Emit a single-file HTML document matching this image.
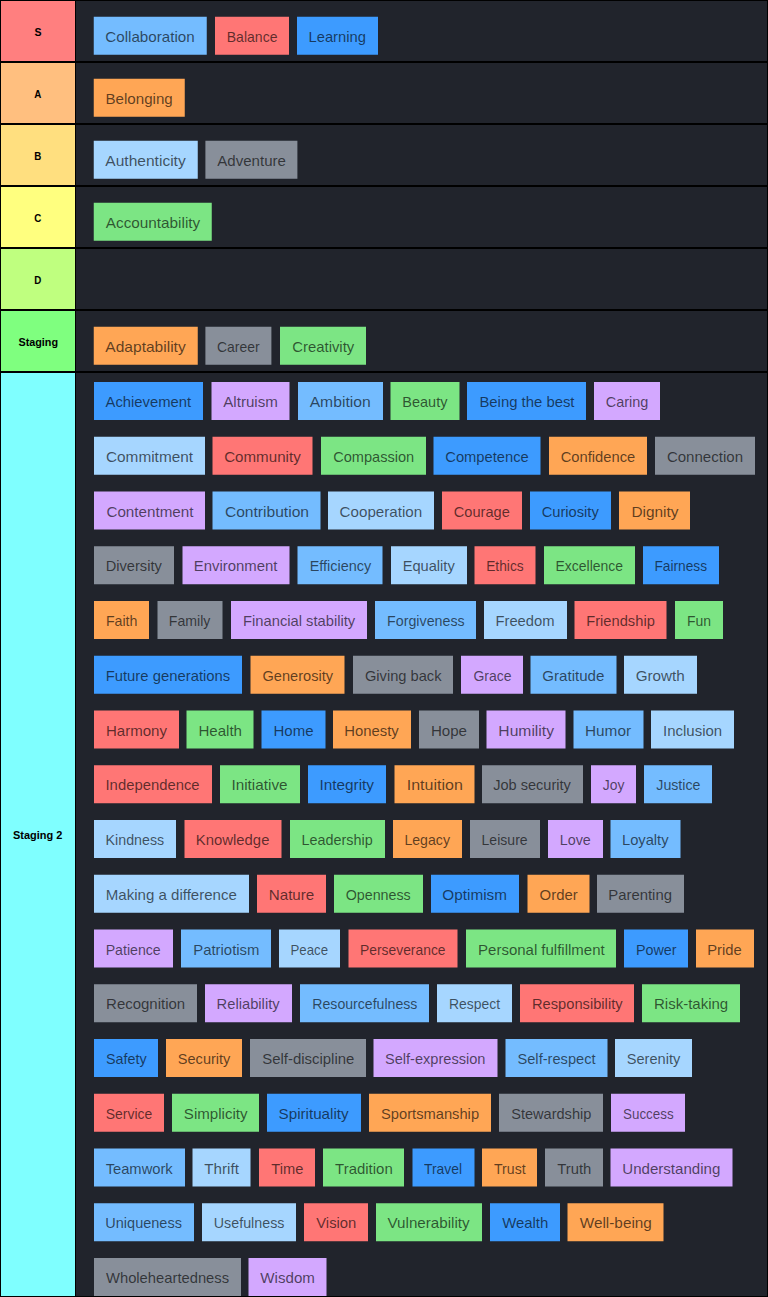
<!DOCTYPE html>
<html><head><meta charset="utf-8"><title>Values tier list</title>
<style>
html,body{margin:0;padding:0;background:#000;}
body{width:768px;height:1297px;position:relative;overflow:hidden;font-family:"Liberation Sans",sans-serif;}
.row{position:absolute;left:1px;width:766px;background:#21242c;}
.lab{position:absolute;left:0;top:0;width:74px;height:100%;display:flex;align-items:center;justify-content:center;font-weight:bold;font-size:10.5px;color:#000;white-space:nowrap;}
.sep{position:absolute;left:74px;top:0;width:1px;height:100%;background:#000;}
.c{position:absolute;height:38px;display:flex;align-items:center;justify-content:center;font-size:15px;color:rgba(0,0,0,.64);white-space:nowrap;}
.c span,.lab span{display:inline-block;position:relative;top:0.6px;}
.lab span{top:1.25px;}
.lb{background:#74bcff;}
.red{background:#ff7675;}
.blue{background:#3d9bff;}
.or{background:#ffa655;}
.pale{background:#a6d6ff;}
.gray{background:#888f9a;}
.gr{background:#7ce584;}
.pu{background:#d3a8ff;}
</style></head><body>
<div class="row" style="top:1px;height:60px">
<div class="lab" style="background:#ff7f7f"><span>S</span></div><div class="sep"></div>
<div class="c lb" style="left:92px;top:15px;width:113px;transform:translate(0.75px,0.75px);"><span style="transform:scaleX(1.0109)">Collaboration</span></div>
<div class="c red" style="left:214px;top:15px;width:74px;transform:translate(0px,0.75px);"><span style="transform:scaleX(0.9351)">Balance</span></div>
<div class="c blue" style="left:296px;top:15px;width:81px;transform:translate(0px,0.75px);"><span style="transform:scaleX(0.9830)">Learning</span></div>
</div>
<div class="row" style="top:63px;height:60px">
<div class="lab" style="background:#ffbf7f"><span style="transform:scaleX(.93)">A</span></div><div class="sep"></div>
<div class="c or" style="left:92px;top:15px;width:91px;transform:translate(0.75px,0.75px);"><span style="transform:scaleX(1.0092)">Belonging</span></div>
</div>
<div class="row" style="top:125px;height:60px">
<div class="lab" style="background:#ffdf7f"><span style="transform:scaleX(.93)">B</span></div><div class="sep"></div>
<div class="c pale" style="left:92px;top:15px;width:104px;transform:translate(0.75px,0.75px);"><span style="transform:scaleX(1.0361)">Authenticity</span></div>
<div class="c gray" style="left:204px;top:15px;width:92px;transform:translate(0.4px,0.75px);"><span style="transform:scaleX(1.0045)">Adventure</span></div>
</div>
<div class="row" style="top:187px;height:60px">
<div class="lab" style="background:#ffff7f"><span style="transform:scaleX(.93)">C</span></div><div class="sep"></div>
<div class="c gr" style="left:92px;top:15px;width:118px;transform:translate(0.75px,0.75px);"><span style="transform:scaleX(1.0193)">Accountability</span></div>
</div>
<div class="row" style="top:249px;height:60px">
<div class="lab" style="background:#bfff7f"><span style="transform:scaleX(.93)">D</span></div><div class="sep"></div>
</div>
<div class="row" style="top:311px;height:60px">
<div class="lab" style="background:#7fff7f"><span style="transform:scaleX(1.0286)">Staging</span></div><div class="sep"></div>
<div class="c or" style="left:92px;top:15px;width:104px;transform:translate(0.75px,0.75px);"><span style="transform:scaleX(1.0359)">Adaptability</span></div>
<div class="c gray" style="left:204px;top:15px;width:66px;transform:translate(0.4px,0.75px);"><span style="transform:scaleX(0.9311)">Career</span></div>
<div class="c gr" style="left:279px;top:15px;width:86px;transform:translate(0px,0.75px);"><span style="transform:scaleX(0.9902)">Creativity</span></div>
</div>
<div class="row" style="top:373px;height:923px">
<div class="lab" style="background:#7fffff"><span style="top:0;transform:scaleX(1.0430)">Staging 2</span></div><div class="sep"></div>
<div class="c blue" style="left:93px;top:9px;width:109px;"><span style="transform:scaleX(0.9871)">Achievement</span></div>
<div class="c pu" style="left:210px;top:9px;width:78px;transform:translate(0.5px,0px);"><span style="transform:scaleX(1.0079)">Altruism</span></div>
<div class="c lb" style="left:297px;top:9px;width:85px;"><span style="transform:scaleX(1.0470)">Ambition</span></div>
<div class="c gr" style="left:389px;top:9px;width:69px;transform:translate(0.5px,0px);"><span style="transform:scaleX(0.9657)">Beauty</span></div>
<div class="c blue" style="left:466px;top:9px;width:119px;"><span style="transform:scaleX(0.9916)">Being the best</span></div>
<div class="c pu" style="left:593px;top:9px;width:66px;"><span style="transform:scaleX(0.9641)">Caring</span></div>
<div class="c pale" style="left:93px;top:63px;width:111px;transform:translate(0px,0.75px);"><span style="transform:scaleX(1.0245)">Commitment</span></div>
<div class="c red" style="left:211px;top:63px;width:100px;transform:translate(0.5px,0.75px);"><span style="transform:scaleX(1.0098)">Community</span></div>
<div class="c gr" style="left:320px;top:63px;width:105px;transform:translate(0px,0.75px);"><span style="transform:scaleX(0.9727)">Compassion</span></div>
<div class="c blue" style="left:432px;top:63px;width:107px;transform:translate(0.5px,0.75px);"><span style="transform:scaleX(0.9828)">Competence</span></div>
<div class="c or" style="left:548px;top:63px;width:98px;transform:translate(0px,0.75px);"><span style="transform:scaleX(0.9830)">Confidence</span></div>
<div class="c gray" style="left:654px;top:63px;width:100px;transform:translate(0px,0.75px);"><span style="transform:scaleX(1.0028)">Connection</span></div>
<div class="c pu" style="left:93px;top:118px;width:111px;transform:translate(0px,0.5px);"><span style="transform:scaleX(1.0141)">Contentment</span></div>
<div class="c lb" style="left:211px;top:118px;width:108px;transform:translate(0.5px,0.5px);"><span style="transform:scaleX(1.0397)">Contribution</span></div>
<div class="c pale" style="left:327px;top:118px;width:106px;transform:translate(0px,0.5px);"><span style="transform:scaleX(1.0106)">Cooperation</span></div>
<div class="c red" style="left:441px;top:118px;width:80px;transform:translate(0px,0.5px);"><span style="transform:scaleX(0.9749)">Courage</span></div>
<div class="c blue" style="left:529px;top:118px;width:81px;transform:translate(0px,0.5px);"><span style="transform:scaleX(0.9784)">Curiosity</span></div>
<div class="c or" style="left:618px;top:118px;width:71px;transform:translate(0px,0.5px);"><span style="transform:scaleX(1.0271)">Dignity</span></div>
<div class="c gray" style="left:93px;top:173px;width:80px;transform:translate(0px,0.25px);"><span style="transform:scaleX(0.9754)">Diversity</span></div>
<div class="c pu" style="left:181px;top:173px;width:107px;transform:translate(0.5px,0.25px);"><span style="transform:scaleX(0.9927)">Environment</span></div>
<div class="c lb" style="left:296px;top:173px;width:85px;transform:translate(0.5px,0.25px);"><span style="transform:scaleX(0.9637)">Efficiency</span></div>
<div class="c pale" style="left:390px;top:173px;width:76px;transform:translate(0px,0.25px);"><span style="transform:scaleX(0.9761)">Equality</span></div>
<div class="c red" style="left:473px;top:173px;width:61px;transform:translate(0.5px,0.25px);"><span style="transform:scaleX(0.9202)">Ethics</span></div>
<div class="c gr" style="left:543px;top:173px;width:91px;transform:translate(0px,0.25px);"><span style="transform:scaleX(0.9318)">Excellence</span></div>
<div class="c blue" style="left:642px;top:173px;width:76px;transform:translate(0px,0.25px);"><span style="transform:scaleX(0.9143)">Fairness</span></div>
<div class="c or" style="left:93px;top:228px;width:55px;"><span style="transform:scaleX(0.9473)">Faith</span></div>
<div class="c gray" style="left:156px;top:228px;width:65px;transform:translate(0.5px,0px);"><span style="transform:scaleX(0.9418)">Family</span></div>
<div class="c pu" style="left:230px;top:228px;width:136px;"><span style="transform:scaleX(0.9815)">Financial stability</span></div>
<div class="c lb" style="left:374px;top:228px;width:101px;"><span style="transform:scaleX(0.9498)">Forgiveness</span></div>
<div class="c pale" style="left:483px;top:228px;width:83px;"><span style="transform:scaleX(0.9845)">Freedom</span></div>
<div class="c red" style="left:573px;top:228px;width:92px;transform:translate(0.5px,0px);"><span style="transform:scaleX(0.9793)">Friendship</span></div>
<div class="c gr" style="left:674px;top:228px;width:48px;"><span style="transform:scaleX(0.9320)">Fun</span></div>
<div class="c blue" style="left:93px;top:282px;width:148px;transform:translate(0px,0.75px);"><span style="transform:scaleX(0.9895)">Future generations</span></div>
<div class="c or" style="left:249px;top:282px;width:94px;transform:translate(0.5px,0.75px);"><span style="transform:scaleX(0.9732)">Generosity</span></div>
<div class="c gray" style="left:352px;top:282px;width:100px;transform:translate(0px,0.75px);"><span style="transform:scaleX(0.9774)">Giving back</span></div>
<div class="c pu" style="left:460px;top:282px;width:62px;transform:translate(0px,0.75px);"><span style="transform:scaleX(0.9325)">Grace</span></div>
<div class="c lb" style="left:529px;top:282px;width:86px;transform:translate(0.5px,0.75px);"><span style="transform:scaleX(1.0064)">Gratitude</span></div>
<div class="c pale" style="left:623px;top:282px;width:73px;transform:translate(0px,0.75px);"><span style="transform:scaleX(1.0153)">Growth</span></div>
<div class="c red" style="left:93px;top:337px;width:85px;transform:translate(0px,0.5px);"><span style="transform:scaleX(1.0040)">Harmony</span></div>
<div class="c gr" style="left:185px;top:337px;width:67px;transform:translate(0.5px,0.5px);"><span style="transform:scaleX(1.0055)">Health</span></div>
<div class="c blue" style="left:260px;top:337px;width:64px;transform:translate(0.5px,0.5px);"><span style="transform:scaleX(1.0021)">Home</span></div>
<div class="c or" style="left:332px;top:337px;width:78px;transform:translate(0px,0.5px);"><span style="transform:scaleX(0.9922)">Honesty</span></div>
<div class="c gray" style="left:418px;top:337px;width:60px;transform:translate(0px,0.5px);"><span style="transform:scaleX(1.0067)">Hope</span></div>
<div class="c pu" style="left:485px;top:337px;width:79px;transform:translate(0.5px,0.5px);"><span style="transform:scaleX(1.0423)">Humility</span></div>
<div class="c lb" style="left:572px;top:337px;width:70px;transform:translate(0.5px,0.5px);"><span style="transform:scaleX(1.0241)">Humor</span></div>
<div class="c pale" style="left:650px;top:337px;width:83px;transform:translate(0px,0.5px);"><span style="transform:scaleX(0.9983)">Inclusion</span></div>
<div class="c red" style="left:93px;top:392px;width:118px;transform:translate(0px,0.25px);"><span style="transform:scaleX(0.9895)">Independence</span></div>
<div class="c gr" style="left:219px;top:392px;width:80px;transform:translate(0px,0.25px);"><span style="transform:scaleX(1.0194)">Initiative</span></div>
<div class="c blue" style="left:307px;top:392px;width:78px;transform:translate(0px,0.25px);"><span style="transform:scaleX(1.0233)">Integrity</span></div>
<div class="c or" style="left:393px;top:392px;width:80px;transform:translate(0.5px,0.25px);"><span style="transform:scaleX(1.0676)">Intuition</span></div>
<div class="c gray" style="left:481px;top:392px;width:101px;transform:translate(0px,0.25px);"><span style="transform:scaleX(0.9694)">Job security</span></div>
<div class="c pu" style="left:590px;top:392px;width:45px;transform:translate(0px,0.25px);"><span style="transform:scaleX(0.9253)">Joy</span></div>
<div class="c lb" style="left:643px;top:392px;width:68px;transform:translate(0px,0.25px);"><span style="transform:scaleX(0.9446)">Justice</span></div>
<div class="c pale" style="left:93px;top:447px;width:82px;"><span style="transform:scaleX(0.9495)">Kindness</span></div>
<div class="c red" style="left:183px;top:447px;width:97px;transform:translate(0.5px,0px);"><span style="transform:scaleX(0.9915)">Knowledge</span></div>
<div class="c gr" style="left:289px;top:447px;width:95px;"><span style="transform:scaleX(0.9578)">Leadership</span></div>
<div class="c or" style="left:392px;top:447px;width:69px;"><span style="transform:scaleX(0.9426)">Legacy</span></div>
<div class="c gray" style="left:469px;top:447px;width:70px;"><span style="transform:scaleX(0.9369)">Leisure</span></div>
<div class="c pu" style="left:547px;top:447px;width:55px;"><span style="transform:scaleX(0.9560)">Love</span></div>
<div class="c lb" style="left:609px;top:447px;width:70px;transform:translate(0.5px,0px);"><span style="transform:scaleX(0.9804)">Loyalty</span></div>
<div class="c pale" style="left:93px;top:501px;width:155px;transform:translate(0px,0.75px);"><span style="transform:scaleX(1.0035)">Making a difference</span></div>
<div class="c red" style="left:256px;top:501px;width:69px;transform:translate(0px,0.75px);"><span style="transform:scaleX(1.0126)">Nature</span></div>
<div class="c gr" style="left:333px;top:501px;width:89px;transform:translate(0px,0.75px);"><span style="transform:scaleX(0.9519)">Openness</span></div>
<div class="c blue" style="left:430px;top:501px;width:88px;transform:translate(0px,0.75px);"><span style="transform:scaleX(1.0198)">Optimism</span></div>
<div class="c or" style="left:526px;top:501px;width:62px;transform:translate(0.5px,0.75px);"><span style="transform:scaleX(0.9936)">Order</span></div>
<div class="c gray" style="left:596px;top:501px;width:87px;transform:translate(0px,0.75px);"><span style="transform:scaleX(0.9904)">Parenting</span></div>
<div class="c pu" style="left:93px;top:556px;width:79px;transform:translate(0px,0.5px);"><span style="transform:scaleX(0.9439)">Patience</span></div>
<div class="c lb" style="left:180px;top:556px;width:90px;transform:translate(0px,0.5px);"><span style="transform:scaleX(0.9912)">Patriotism</span></div>
<div class="c pale" style="left:278px;top:556px;width:61px;transform:translate(0px,0.5px);"><span style="transform:scaleX(0.8837)">Peace</span></div>
<div class="c red" style="left:347px;top:556px;width:109px;transform:translate(0.5px,0.5px);"><span style="transform:scaleX(0.9248)">Perseverance</span></div>
<div class="c gr" style="left:465px;top:556px;width:150px;transform:translate(0px,0.5px);"><span style="transform:scaleX(0.9989)">Personal fulfillment</span></div>
<div class="c blue" style="left:623px;top:556px;width:64px;transform:translate(0px,0.5px);"><span style="transform:scaleX(0.9546)">Power</span></div>
<div class="c or" style="left:695px;top:556px;width:58px;transform:translate(0px,0.5px);"><span style="transform:scaleX(0.9877)">Pride</span></div>
<div class="c gray" style="left:93px;top:611px;width:103px;transform:translate(0px,0.25px);"><span style="transform:scaleX(0.9985)">Recognition</span></div>
<div class="c pu" style="left:204px;top:611px;width:87px;transform:translate(0px,0.25px);"><span style="transform:scaleX(0.9828)">Reliability</span></div>
<div class="c lb" style="left:299px;top:611px;width:129px;transform:translate(0px,0.25px);"><span style="transform:scaleX(0.9406)">Resourcefulness</span></div>
<div class="c pale" style="left:436px;top:611px;width:75px;transform:translate(0px,0.25px);"><span style="transform:scaleX(0.9286)">Respect</span></div>
<div class="c red" style="left:519px;top:611px;width:114px;transform:translate(0px,0.25px);"><span style="transform:scaleX(0.9790)">Responsibility</span></div>
<div class="c gr" style="left:641px;top:611px;width:98px;transform:translate(0px,0.25px);"><span style="transform:scaleX(0.9988)">Risk-taking</span></div>
<div class="c blue" style="left:93px;top:666px;width:64px;"><span style="transform:scaleX(0.9546)">Safety</span></div>
<div class="c or" style="left:165px;top:666px;width:76px;"><span style="transform:scaleX(0.9707)">Security</span></div>
<div class="c gray" style="left:249px;top:666px;width:116px;"><span style="transform:scaleX(0.9952)">Self-discipline</span></div>
<div class="c pu" style="left:372px;top:666px;width:124px;transform:translate(0.5px,0px);"><span style="transform:scaleX(0.9730)">Self-expression</span></div>
<div class="c lb" style="left:504px;top:666px;width:102px;transform:translate(0.5px,0px);"><span style="transform:scaleX(0.9757)">Self-respect</span></div>
<div class="c pale" style="left:614px;top:666px;width:77px;"><span style="transform:scaleX(0.9740)">Serenity</span></div>
<div class="c red" style="left:93px;top:720px;width:70px;transform:translate(0px,0.75px);"><span style="transform:scaleX(0.9314)">Service</span></div>
<div class="c gr" style="left:171px;top:720px;width:87px;transform:translate(0px,0.75px);"><span style="transform:scaleX(1.0040)">Simplicity</span></div>
<div class="c blue" style="left:266px;top:720px;width:94px;transform:translate(0px,0.75px);"><span style="transform:scaleX(1.0130)">Spirituality</span></div>
<div class="c or" style="left:368px;top:720px;width:122px;transform:translate(0px,0.75px);"><span style="transform:scaleX(0.9804)">Sportsmanship</span></div>
<div class="c gray" style="left:498px;top:720px;width:104px;transform:translate(0px,0.75px);"><span style="transform:scaleX(0.9704)">Stewardship</span></div>
<div class="c pu" style="left:610px;top:720px;width:74px;transform:translate(0px,0.75px);"><span style="transform:scaleX(0.8924)">Success</span></div>
<div class="c lb" style="left:93px;top:775px;width:91px;transform:translate(0px,0.5px);"><span style="transform:scaleX(0.9816)">Teamwork</span></div>
<div class="c pale" style="left:191px;top:775px;width:58px;transform:translate(0.5px,0.5px);"><span style="transform:scaleX(1.0125)">Thrift</span></div>
<div class="c red" style="left:258px;top:775px;width:56px;transform:translate(0px,0.5px);"><span style="transform:scaleX(0.9792)">Time</span></div>
<div class="c gr" style="left:322px;top:775px;width:81px;transform:translate(0px,0.5px);"><span style="transform:scaleX(0.9963)">Tradition</span></div>
<div class="c blue" style="left:411px;top:775px;width:62px;transform:translate(0.5px,0.5px);"><span style="transform:scaleX(0.9264)">Travel</span></div>
<div class="c or" style="left:481px;top:775px;width:55px;transform:translate(0px,0.5px);"><span style="transform:scaleX(0.9398)">Trust</span></div>
<div class="c gray" style="left:544px;top:775px;width:58px;transform:translate(0px,0.5px);"><span style="transform:scaleX(0.9898)">Truth</span></div>
<div class="c pu" style="left:609px;top:775px;width:122px;transform:translate(0.5px,0.5px);"><span style="transform:scaleX(1.0053)">Understanding</span></div>
<div class="c lb" style="left:93px;top:830px;width:100px;transform:translate(0px,0.25px);"><span style="transform:scaleX(0.9669)">Uniqueness</span></div>
<div class="c pale" style="left:201px;top:830px;width:94px;transform:translate(0px,0.25px);"><span style="transform:scaleX(0.9514)">Usefulness</span></div>
<div class="c red" style="left:303px;top:830px;width:64px;transform:translate(0px,0.25px);"><span style="transform:scaleX(0.9878)">Vision</span></div>
<div class="c gr" style="left:375px;top:830px;width:106px;transform:translate(0px,0.25px);"><span style="transform:scaleX(1.0116)">Vulnerability</span></div>
<div class="c blue" style="left:489px;top:830px;width:70px;transform:translate(0px,0.25px);"><span style="transform:scaleX(0.9931)">Wealth</span></div>
<div class="c or" style="left:566px;top:830px;width:96px;transform:translate(0.5px,0.25px);"><span style="transform:scaleX(1.0213)">Well-being</span></div>
<div class="c gray" style="left:93px;top:885px;width:147px;"><span style="transform:scaleX(0.9842)">Wholeheartedness</span></div>
<div class="c pu" style="left:247px;top:885px;width:78px;transform:translate(0.5px,0px);"><span style="transform:scaleX(1.0079)">Wisdom</span></div>
</div>
</body></html>
